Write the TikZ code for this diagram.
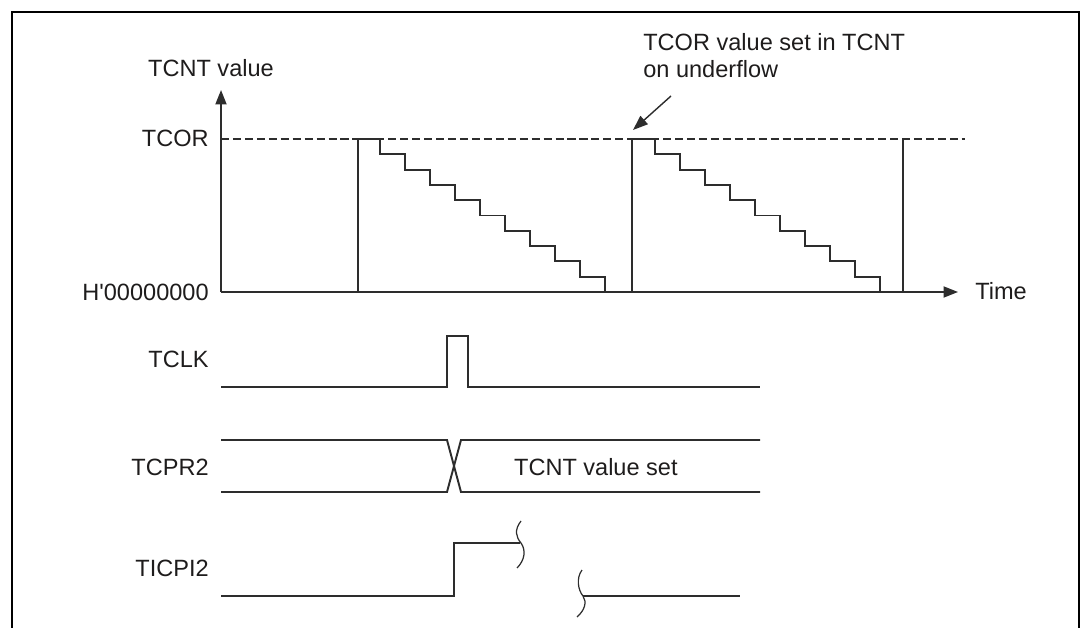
\documentclass[tikz,border=0pt]{standalone}
\usepackage{fontspec}
\setmainfont{Liberation Sans}
\usetikzlibrary{arrows.meta}
\definecolor{waveink}{RGB}{45,45,45}
\definecolor{textink}{RGB}{30,28,28}

\begin{document}
\begin{tikzpicture}[x=0.02cm, y=-0.02cm,
        lbl/.style={font=\fontsize{13.4}{15.4}\selectfont, text=textink, inner sep=0pt},
        wave/.style={draw=waveink, line width=1.1pt, line join=miter},
        axis/.style={wave, -{Triangle[length=0.29cm, width=0.22cm]}},
        guide/.style={draw=waveink, line width=1pt, dash pattern=on 4.6pt off 2.2pt},
        brk/.style={draw=waveink, line width=0.7pt}
    ]
    \useasboundingbox (0,0) rectangle (1091,628);
    % frame, open at the bottom
    \draw[line width=1.4pt] (12,628) -- (12,12) -- (1079,12) -- (1079,628);

    % TCNT axes
    \coordinate (org) at (221,292);
    \coordinate (ytop) at (221,90);
    \coordinate (xend) at (958,292);
    \coordinate (lvl) at (221,139);
    \coordinate (lvlend) at (965,139);
    \draw[guide] (lvl) -- (lvlend);
    \draw[axis] (org) -- (ytop);
    \draw[axis] (org) -- (xend);
    \node[lbl, anchor=base] (yname) at (211,77) {TCNT value};
    \node[lbl, anchor=base west] (xname) at (975,299) {Time};
    \node[lbl, anchor=base east] (tcor) at (209,147) {TCOR};
    \node[lbl, anchor=base east] (zero) at (209,300) {H\textquotesingle 00000000};

    % count-down ramps
    \coordinate (r1) at (358,292);
    \coordinate (r2) at (632,292);
    \coordinate (r3) at (903,292);
    \draw[wave] (r1) -- (r1 |- lvl) -- ++(22,0)
        \foreach \k in {1,...,9} { -- ++(0,15.3) -- ++(25,0) } -- ++(0,15.3);
    \draw[wave] (r2) -- (r2 |- lvl) -- ++(23,0)
        \foreach \k in {1,...,9} { -- ++(0,15.3) -- ++(25,0) } -- ++(0,15.3);
    \draw[wave] (r3) -- (r3 |- lvl);

    % underflow note
    \node[lbl, anchor=base west] (note1) at (643,51) {TCOR value set in TCNT};
    \node[lbl, anchor=base west] (note2) at (643,78) {on underflow};
    \coordinate (tail) at (671,96);
    \coordinate (hit) at (633,130);
    \draw[draw=waveink, line width=0.8pt, -{Triangle[length=0.3cm, width=0.22cm]}] (tail) -- (hit);

    % TCLK
    \node[lbl, anchor=base east] (clk) at (209,367) {TCLK};
    \draw[wave] (221,387) -- (447,387) -- (447,336) -- (468,336) -- (468,387) -- (760,387);

    % TCPR2
    \node[lbl, anchor=base east] (cpr) at (209,475) {TCPR2};
    \draw[wave] (221,440) -- (447,440) -- (461,492) -- (760,492);
    \draw[wave] (221,492) -- (447,492) -- (461,440) -- (760,440);
    \node[lbl, anchor=base east] (setval) at (678,475) {TCNT value set};

    % TICPI2
    \node[lbl, anchor=base east] (cpi) at (209,576) {TICPI2};
    \draw[wave] (221,596) -- (454,596) -- (454,543) -- (520,543);
    \draw[brk] (521,521) .. controls (514,530) and (516,537) .. (521,543)
        .. controls (526,550) and (525,560) .. (517,568);
    \draw[brk] (582,570) .. controls (576,578) and (578,590) .. (583,596)
        .. controls (587,602) and (585,610) .. (577,617);
    \draw[wave] (583,596) -- (740,596);
\end{tikzpicture}
\end{document}
